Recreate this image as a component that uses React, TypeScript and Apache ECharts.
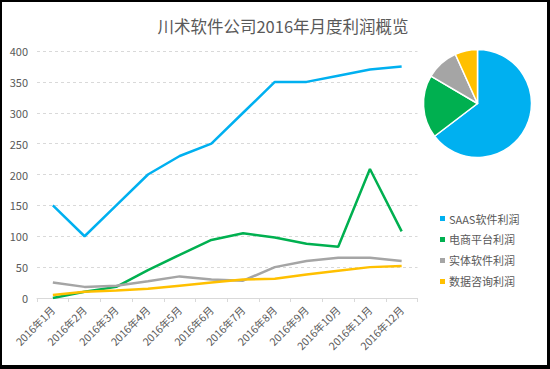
import React, { useEffect, useRef } from "react";
import * as echarts from "echarts";

const months = ["2016年1月","2016年2月","2016年3月","2016年4月","2016年5月","2016年6月","2016年7月","2016年8月","2016年9月","2016年10月","2016年11月","2016年12月"];
const seriesNames = ["SAAS软件利润","电商平台利润","实体软件利润","数据咨询利润"];
const saas = [150, 100, 150, 200, 230, 250, 300, 350, 350, 360, 370, 375];
const ecommerce = [0, 10, 18, 45, 70, 94, 105, 98, 88, 83, 209, 108];
const physical = [25, 18, 20, 27, 35, 30, 28, 50, 60, 65, 65, 60];
const consulting = [5, 10, 12, 15, 20, 25, 30, 31, 38, 44, 50, 52];
const colors = ["#00B0F0", "#00B050", "#A5A5A5", "#FFC000"];
const title = "川术软件公司2016年月度利润概览";

export default function App() {
  const ref = useRef<HTMLDivElement>(null);
  useEffect(() => {
    document.body.style.margin = "0";
    if (!ref.current) return;
    const chart = echarts.init(ref.current, null, { renderer: "svg" });
    const all = [saas, ecommerce, physical, consulting];
    const sums = all.map((a) => a.reduce((s, v) => s + v, 0));
    const font = "'Noto Sans CJK SC', 'Noto Sans', sans-serif";
    chart.setOption({
      animation: false,
      color: colors,
      textStyle: { fontFamily: font },
      title: {
        text: title,
        left: 276,
        top: 11,
        textAlign: "center",
        textStyle: { fontSize: 16.5, fontWeight: "normal", color: "#595959", fontFamily: font },
      },
      legend: {
        orient: "vertical",
        left: 433,
        top: 206,
        itemWidth: 5,
        itemHeight: 5,
        itemGap: 10,
        icon: "rect",
        data: seriesNames,
        textStyle: { fontSize: 11, color: "#595959", fontFamily: font, padding: [0, 0, 0, -1] },
      },
      grid: { left: 35, right: 129.5, top: 49, bottom: 67, containLabel: false },
      xAxis: {
        type: "category",
        data: months,
        boundaryGap: true,
        axisLine: { lineStyle: { color: "#d9d9d9" } },
        axisTick: { show: true, length: 4, lineStyle: { color: "#d9d9d9" } },
        axisLabel: { rotate: 45, fontSize: 10.5, color: "#595959", margin: 10, interval: 0 },
      },
      yAxis: {
        type: "value",
        min: 0,
        max: 400,
        interval: 50,
        axisLine: { show: false },
        axisTick: { show: false },
        axisLabel: { fontSize: 11, color: "#595959", margin: 9 },
        splitLine: { lineStyle: { color: "#d9d9d9", type: [3, 3] } },
      },
      series: [
        ...all.map((d, i) => ({
          name: seriesNames[i],
          type: "line",
          data: d,
          showSymbol: false,
          symbol: "none",
          lineStyle: { width: 2.5, color: colors[i] },
          itemStyle: { color: colors[i] },
        })),
        {
          type: "pie",
          center: [475.5, 101.5],
          radius: 54,
          startAngle: 90,
          clockwise: true,
          label: { show: false },
          labelLine: { show: false },
          itemStyle: { borderColor: "#fff", borderWidth: 1.5 },
          data: sums.map((v, i) => ({ name: seriesNames[i], value: v, itemStyle: { color: colors[i] } })),
        },
      ],
    });
    return () => chart.dispose();
  }, []);
  return (
    <div style={{ position: "relative", width: 550, height: 369, background: "#000" }}>
      <div
        ref={ref}
        style={{ position: "absolute", left: 2, top: 2, width: 545, height: 363, background: "#fff" }}
      />
    </div>
  );
}
